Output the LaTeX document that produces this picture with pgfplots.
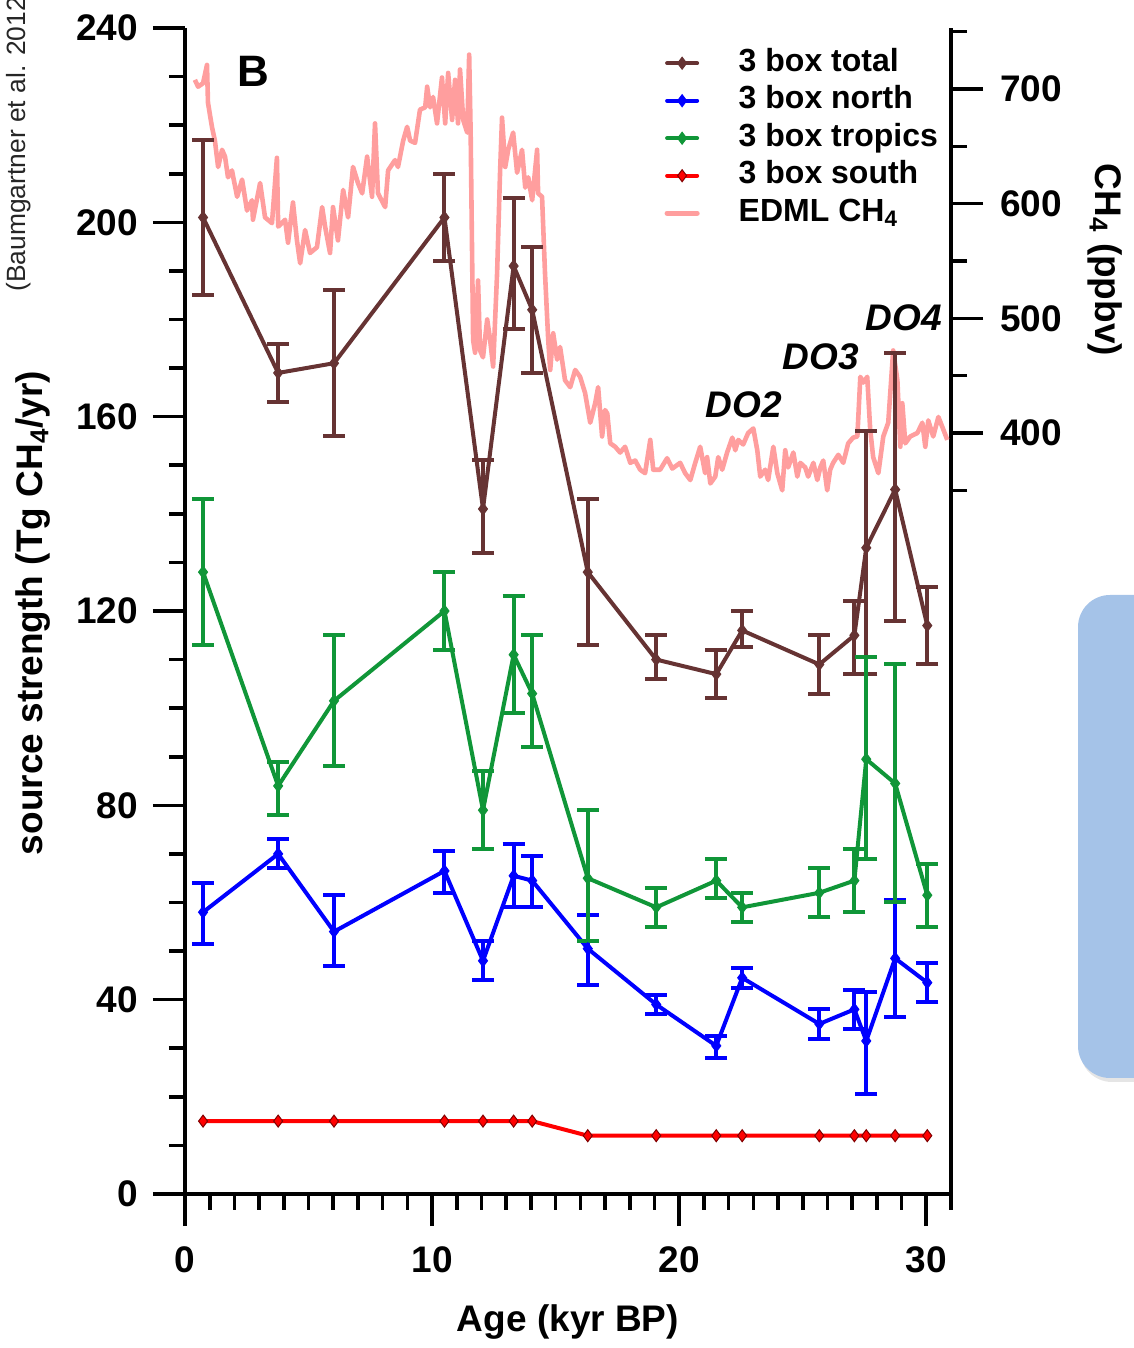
\documentclass[border=0pt]{standalone}
\usepackage{fontspec}
\setmainfont{Liberation Sans}
\usepackage{graphicx}
\usepackage{pgfplots}
\pgfplotsset{compat=1.18}

\definecolor{ctotal}{RGB}{102,51,51}
\definecolor{cnorth}{RGB}{0,0,255}
\definecolor{ctrop}{RGB}{16,150,56}
\definecolor{csouth}{RGB}{255,0,0}
\definecolor{cedml}{RGB}{255,158,158}
\definecolor{cbox}{RGB}{165,195,232}

\pgfplotstableread{
x y ep em
0.73 201 16 16
3.77 169 6 6
6.03 171 15 15
10.5 201 9 9
12.06 141 10 9
13.3 191 14 13
14.05 182 13 13
16.3 128 15 15
19.07 110 5 4
21.5 107 5 5
22.55 116 4 3.5
25.67 109 6 6
27.09 115 7 8
27.57 133 24 26
28.74 145 28 27
30.04 117 8 8
}\total

\pgfplotstableread{
x y ep em
0.73 58 6 6.5
3.77 70 3 3
6.03 54 7.5 7
10.5 66.5 4 4.5
12.06 48 4 4
13.3 65.5 6.5 6.5
14.05 64.5 5 5.5
16.3 50.5 7 7.5
19.07 39 2 2
21.5 30.5 2 2.5
22.55 44.5 2 2
25.67 35 3 3
27.09 38 4 4
27.57 31.5 10 11
28.74 48.5 12 12
30.04 43.5 4 4
}\north

\pgfplotstableread{
x y ep em
0.73 128 15 15
3.77 84 5 6
6.03 101.5 13.5 13.5
10.5 120 8 8
12.06 79 8 8
13.3 111 12 12
14.05 103 12 11
16.3 65 14 13
19.07 59 4 4
21.5 64.5 4.5 3.5
22.55 59 3 3
25.67 62 5 5
27.09 64.5 6.5 6.5
27.57 89.5 21 20.5
28.74 84.5 24.5 24.5
30.04 61.5 6.5 6.5
}\tropics

\pgfplotstableread{
x y
0.73 15
3.77 15
6.03 15
10.5 15
12.06 15
13.3 15
14.05 15
16.3 12
19.07 12
21.5 12
22.55 12
25.67 12
27.09 12
27.57 12
28.74 12
30.04 12
}\south

\pgfplotsset{
  myaxis/.style={
    scale only axis, width=383pt, height=583pt,
    at={(92.5pt,77pt)}, anchor=south west,
    xmin=0, xmax=31,
    tick align=outside,
    major tick length=16pt, minor tick length=8pt,
    major tick style={line width=1.8pt, black},
    minor tick style={line width=1.8pt, black},
    axis line style={line width=2pt, black},
    tick label style={font=\fontsize{18.5}{20}\selectfont\bfseries},
    /pgf/number format/assume math mode=true,
  },
  myerr/.style={error bars/.cd, y dir=both, y explicit,
    error bar style={line width=2pt, #1},
    error mark options={line width=2pt, mark size=5.5pt, rotate=90, #1}},
}

\begin{document}
\begin{tikzpicture}
\useasboundingbox (0pt,0pt) rectangle (567pt,674pt);

% decorative rounded box at right edge
\fill[black!20, opacity=0.5, rounded corners=16pt] (540pt,133pt) rectangle (640pt,375pt);
\fill[cbox, rounded corners=16pt] (539pt,135pt) rectangle (640pt,376.5pt);

% right axis: EDML CH4
\begin{axis}[myaxis,
  axis y line*=right, axis x line=none,
  ymin=-263.6, ymax=753.2,
  ytick={400,500,600,700}, minor ytick={350,450,550,650,750},
  yticklabel style={xshift=5pt},
]
\addplot[cedml, line width=2.3pt, line join=round, no marks] coordinates {
(0.40,708)(0.53,702)(0.73,705)(0.89,721)(0.93,688)(1.09,667)(1.21,655)(1.34,632)(1.50,647)(1.62,641)(1.74,623)(1.90,629)(2.11,606)(2.31,621)(2.51,594)(2.71,603)(2.75,586)(3.04,618)(3.24,588)(3.52,583)(3.72,640)(3.77,580)(4.05,586)(4.17,566)(4.37,601)(4.53,568)(4.66,548)(4.86,577)(5.06,557)(5.34,562)(5.55,597)(5.67,580)(5.87,557)(5.99,597)(6.19,568)(6.40,612)(6.60,588)(6.80,632)(7.00,618)(7.17,609)(7.37,641)(7.57,606)(7.69,670)(7.81,609)(8.10,597)(8.22,629)(8.50,638)(8.62,632)(8.83,655)(8.99,667)(9.11,655)(9.31,653)(9.51,682)(9.72,684)(9.80,702)(9.92,684)(10.04,693)(10.20,670)(10.40,710)(10.53,670)(10.65,714)(10.81,673)(10.93,708)(11.05,670)(11.13,717)(11.26,673)(11.42,662)(11.50,730)(11.56,662)(11.62,553)(11.66,481)(11.74,470)(11.86,533)(11.94,472)(12.06,466)(12.23,499)(12.35,481)(12.47,458)(12.63,539)(12.75,627)(12.83,675)(12.96,632)(13.08,647)(13.28,662)(13.44,627)(13.64,647)(13.77,614)(13.89,623)(14.05,603)(14.25,647)(14.29,609)(14.45,606)(14.57,539)(14.70,481)(14.78,455)(14.90,487)(15.06,464)(15.18,475)(15.38,446)(15.59,440)(15.79,455)(15.99,449)(16.19,435)(16.40,409)(16.60,426)(16.72,440)(16.88,397)(17.00,420)(17.09,417)(17.21,391)(17.41,388)(17.61,383)(17.81,388)(18.02,374)(18.22,376)(18.42,368)(18.62,365)(18.83,394)(18.95,368)(19.23,368)(19.51,378)(19.72,369)(20.04,374)(20.24,365)(20.45,359)(20.65,374)(20.85,388)(21.05,365)(21.13,379)(21.26,356)(21.46,362)(21.58,379)(21.74,368)(21.94,383)(22.15,396)(22.27,385)(22.39,394)(22.59,390)(22.79,400)(23.00,404)(23.16,385)(23.28,362)(23.48,368)(23.60,359)(23.81,388)(23.97,365)(24.17,350)(24.29,385)(24.41,370)(24.62,383)(24.78,362)(24.90,374)(25.10,370)(25.22,362)(25.43,374)(25.59,359)(25.71,370)(25.83,376)(25.99,350)(26.11,368)(26.23,374)(26.44,381)(26.64,374)(26.84,391)(27.04,396)(27.21,397)(27.33,449)(27.45,444)(27.61,449)(27.73,403)(27.85,379)(28.06,365)(28.26,397)(28.46,409)(28.66,472)(28.83,446)(28.95,388)(29.03,426)(29.15,391)(29.35,397)(29.64,400)(29.84,409)(29.96,388)(30.08,411)(30.28,397)(30.49,414)(30.69,403)(30.85,394)
};
\end{axis}

% left axis: source strengths
\begin{axis}[myaxis,
  axis y line*=left, axis x line*=bottom,
  ymin=0, ymax=240,
  ytick={0,40,...,240}, minor ytick={10,20,...,230},
  yticklabel style={xshift=-4pt},
  xtick={0,10,20,30}, minor xtick={1,...,31},
  xticklabel style={yshift=-7pt},
  legend cell align=left,
  legend style={at={(0.6255,0.983)}, anchor=north west, draw=none, fill=none,
    font=\fontsize{16}{18}\selectfont\bfseries, inner sep=0pt, row sep=3.75pt,
    nodes={inner sep=0pt, text height=11.5pt, text depth=3.5pt}},
  legend image code/.code={
    \draw[#1, line cap=round, mark repeat=2, mark phase=2] plot coordinates {(0pt,0pt)(7.5pt,0pt)(15pt,0pt)};
    \path (34.5pt,0pt);
  },
]
\addplot[ctotal, line width=2pt, mark=diamond*, mark size=3pt,
  mark options={solid, fill=ctotal, line width=0.5pt}, myerr=ctotal]
  table[x=x, y=y, y error plus=ep, y error minus=em] {\total};
\addlegendentry{3 box total}
\addplot[cnorth, line width=2pt, mark=diamond*, mark size=3pt,
  mark options={solid, fill=cnorth, line width=0.5pt}, myerr=cnorth]
  table[x=x, y=y, y error plus=ep, y error minus=em] {\north};
\addlegendentry{3 box north}
\addplot[ctrop, line width=2pt, mark=diamond*, mark size=3pt,
  mark options={solid, fill=ctrop, line width=0.5pt}, myerr=ctrop]
  table[x=x, y=y, y error plus=ep, y error minus=em] {\tropics};
\addlegendentry{3 box tropics}
\addplot[csouth, line width=2pt, mark=diamond*, mark size=3pt,
  mark options={solid, fill=csouth, draw=red!50!black, line width=0.5pt}]
  table[x=x, y=y] {\south};
\addlegendentry{3 box south}
\addlegendimage{cedml, line width=2.6pt, no marks}
\addlegendentry{EDML CH\textsubscript{4}}
\end{axis}

% labels
\node[rotate=90, font=\fontsize{18.5}{20}\selectfont\bfseries] at (16.5pt,367.5pt) {source strength (Tg CH\textsubscript{4}/yr)};
\node[font=\fontsize{18.5}{20}\selectfont\bfseries] at (284pt,13pt) {Age (kyr BP)};
\node[rotate=-90, font=\fontsize{18.5}{20}\selectfont\bfseries] at (552.5pt,544pt) {CH\textsubscript{4} (ppbv)};
\node[font=\fontsize{22}{24}\selectfont\bfseries] at (126.5pt,638.25pt) {B};
\node[font=\fontsize{18.5}{20}\selectfont\bfseries\itshape] at (372pt,471.5pt) {DO2};
\node[font=\fontsize{18.5}{20}\selectfont\bfseries\itshape] at (410.5pt,495.5pt) {DO3};
\node[font=\fontsize{18.5}{20}\selectfont\bfseries\itshape] at (452pt,515pt) {DO4};
\node[rotate=90, anchor=base west, inner sep=0pt, font=\fontsize{13.2}{15}\selectfont, text=black!85] at (12.5pt,528pt) {(Baumgartner et al. 2012)};
\end{tikzpicture}
\end{document}
